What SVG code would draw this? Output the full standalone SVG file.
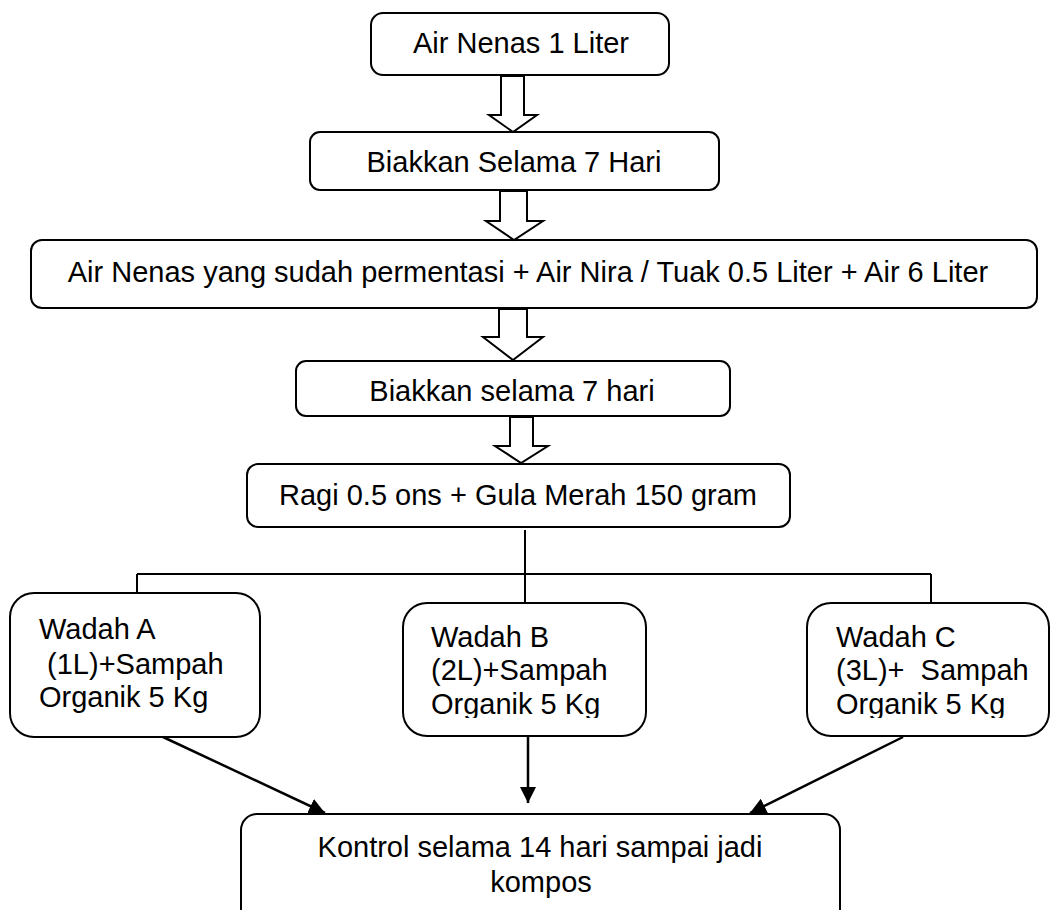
<svg xmlns="http://www.w3.org/2000/svg" width="1051" height="910" viewBox="0 0 1051 910">
<style>
.box{fill:#fff;stroke:#000;stroke-width:2}
.t{font-family:"Liberation Sans",Arial,sans-serif;font-size:29px;fill:#000}
.c{text-anchor:middle}
.hol{fill:#fff;stroke:#000;stroke-width:2;stroke-linejoin:miter}
.ln{fill:none;stroke:#000;stroke-width:2}
.ar{fill:none;stroke:#000;stroke-width:2.5}
</style>
<defs>
<marker id="ah" viewBox="0 0 10 10" refX="10" refY="5" markerWidth="16" markerHeight="16" markerUnits="userSpaceOnUse" orient="auto">
<path d="M0,0 L10,5 L0,10 z" fill="#000"/>
</marker>
<clipPath id="clipB"><rect x="400" y="600" width="250" height="118"/></clipPath>
<clipPath id="clipC"><rect x="804" y="600" width="250" height="118"/></clipPath>
</defs>
<rect width="1051" height="910" fill="#fff"/>

<g id="n1">
<rect class="box" x="371" y="13" width="298" height="62" rx="12"/>
<text class="t c" x="521" y="53">Air Nenas 1 Liter</text>
</g>
<g id="n2">
<rect class="box" x="310" y="132" width="409" height="58" rx="10"/>
<text class="t c" x="514" y="172">Biakkan Selama 7 Hari</text>
</g>
<g id="n3">
<rect class="box" x="31" y="240" width="1006" height="68" rx="11"/>
<text class="t c" x="528" y="282">Air Nenas yang sudah permentasi + Air Nira / Tuak 0.5 Liter + Air 6 Liter</text>
</g>
<g id="n4">
<rect class="box" x="296" y="361" width="434" height="55" rx="10"/>
<text class="t c" x="512" y="401">Biakkan selama 7 hari</text>
</g>
<g id="n5">
<rect class="box" x="247" y="464" width="543" height="63" rx="11"/>
<text class="t c" x="518" y="505">Ragi 0.5 ons + Gula Merah 150 gram</text>
</g>
<g id="nA">
<rect class="box" x="10" y="593" width="250" height="144" rx="24"/>
<text class="t" x="39" y="639" xml:space="preserve">Wadah A</text>
<text class="t" x="39" y="674" xml:space="preserve"> (1L)+Sampah</text>
<text class="t" x="39" y="707" xml:space="preserve">Organik 5 Kg</text>
</g>
<g id="nB">
<rect class="box" x="403" y="603" width="243" height="133" rx="24"/>
<g clip-path="url(#clipB)">
<text class="t" x="431" y="647">Wadah B</text>
<text class="t" x="431" y="680">(2L)+Sampah</text>
<text class="t" x="431" y="714">Organik 5 Kg</text>
</g>
</g>
<g id="nC">
<rect class="box" x="807" y="603" width="242" height="133" rx="24"/>
<g clip-path="url(#clipC)">
<text class="t" x="836" y="647">Wadah C</text>
<text class="t" x="836" y="680" xml:space="preserve">(3L)+  Sampah</text>
<text class="t" x="836" y="714">Organik 5 Kg</text>
</g>
</g>
<g id="nK">
<rect class="box" x="241" y="814" width="599" height="120" rx="16"/>
<text class="t c" x="540" y="857">Kontrol selama 14 hari sampai jadi</text>
<text class="t c" x="541" y="892">kompos</text>
</g>

<g id="connectors">
<path class="hol" d="M501,76 L524,76 L524,115 L537,115 L513,132 L489,115 L501,115 Z"/>
<path class="hol" d="M500,191 L527,191 L527,221 L543,221 L514,240 L486,221 L500,221 Z"/>
<path class="hol" d="M499,309 L527,309 L527,337 L543,337 L513,360 L483,337 L499,337 Z"/>
<path class="hol" d="M510,417 L533,417 L533,446 L548,446 L521,463 L495,446 L510,446 Z"/>
<path class="ln" d="M525,530 L525,603"/>
<path class="ln" d="M137,574 L931,574"/>
<path class="ln" d="M137,574 L137,593"/>
<path class="ln" d="M931,574 L931,603"/>
<path class="ar" d="M163,737 L325,813" marker-end="url(#ah)"/>
<path class="ar" d="M528,736 L528,803" marker-end="url(#ah)"/>
<path class="ar" d="M903,737 L750,813" marker-end="url(#ah)"/>
</g>
</svg>
